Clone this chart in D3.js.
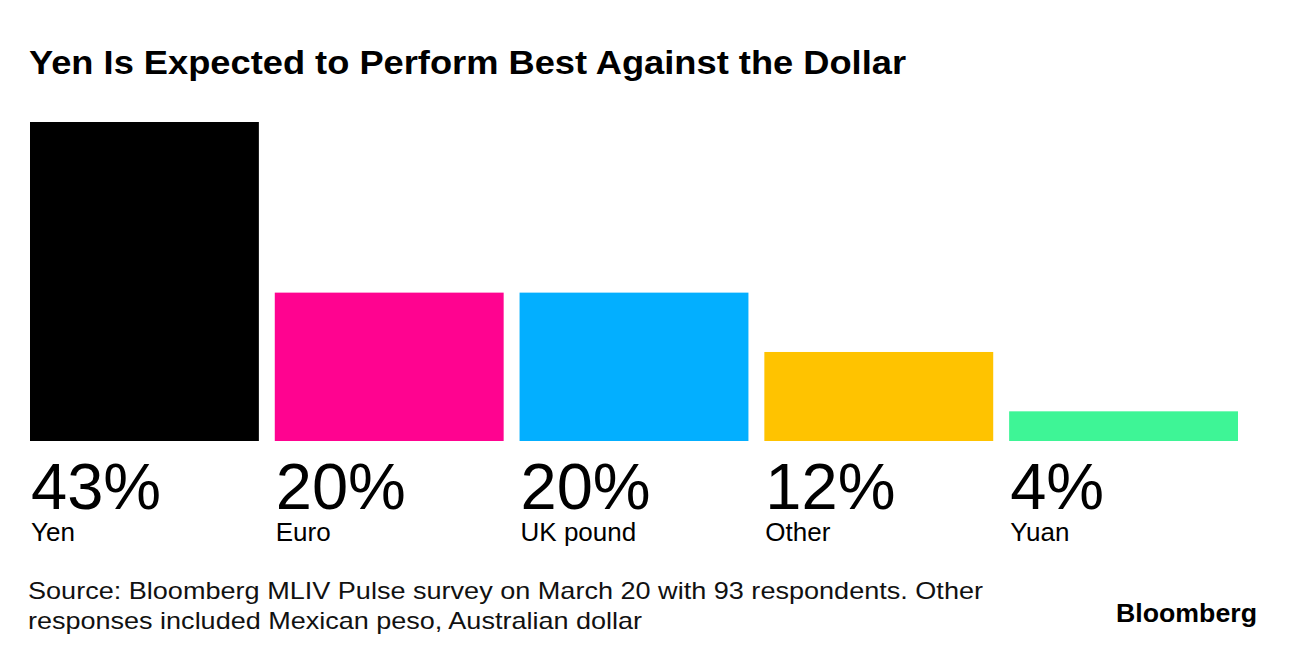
<!DOCTYPE html>
<html><head><meta charset="utf-8">
<script src="https://cdn.jsdelivr.net/npm/d3@7"></script>
<style>body{margin:0;background:#fff}svg{display:block}text{font-family:"Liberation Sans",Arial,sans-serif}</style>
</head><body>
<svg id="c" width="1296" height="660"></svg>
<script>
const categories = ["Yen","Euro","UK pound","Other","Yuan"];
const values = [43,20,20,12,4];
const colors = ["#000000","#ff0390","#03afff","#ffc300","#3ef596"];
const title = "Yen Is Expected to Perform Best Against the Dollar";
const sourceLines = ["Source: Bloomberg MLIV Pulse survey on March 20 with 93 respondents. Other","responses included Mexican peso, Australian dollar"];

const svg = d3.select("#c");
const x = d3.scaleBand().domain(categories).range([30,1238]).paddingInner(0.065).paddingOuter(0);
const y = d3.scaleLinear().domain([0,43]).range([441,122]);

svg.append("text").attr("x",29).attr("y",74).attr("font-size",34).attr("font-weight","bold")
  .attr("textLength",877).attr("lengthAdjust","spacingAndGlyphs").text(title);

svg.selectAll("rect.bar").data(categories).join("rect").attr("class","bar")
  .attr("x",d=>x(d)).attr("width",x.bandwidth())
  .attr("y",(d,i)=>y(values[i])).attr("height",(d,i)=>y(0)-y(values[i]))
  .attr("fill",(d,i)=>colors[i]);

svg.selectAll("text.val").data(categories).join("text").attr("class","val")
  .attr("x",d=>x(d)+1).attr("y",509).attr("font-size",65)
  .text((d,i)=>values[i]+"%");

svg.selectAll("text.cat").data(categories).join("text").attr("class","cat")
  .attr("x",d=>x(d)+1).attr("y",541).attr("font-size",26)
  .text(d=>d);

const src = svg.append("g");
src.selectAll("text").data(sourceLines).join("text")
  .attr("x",28).attr("y",(d,i)=>599+i*30).attr("font-size",24).attr("fill","#111")
  .attr("textLength",(d,i)=>i===0?955:614).attr("lengthAdjust","spacingAndGlyphs")
  .text(d=>d);

svg.append("text").attr("x",1116).attr("y",622).attr("font-size",26).attr("font-weight","bold")
  .attr("textLength",141).attr("lengthAdjust","spacingAndGlyphs").text("Bloomberg");
</script>
</body></html>
